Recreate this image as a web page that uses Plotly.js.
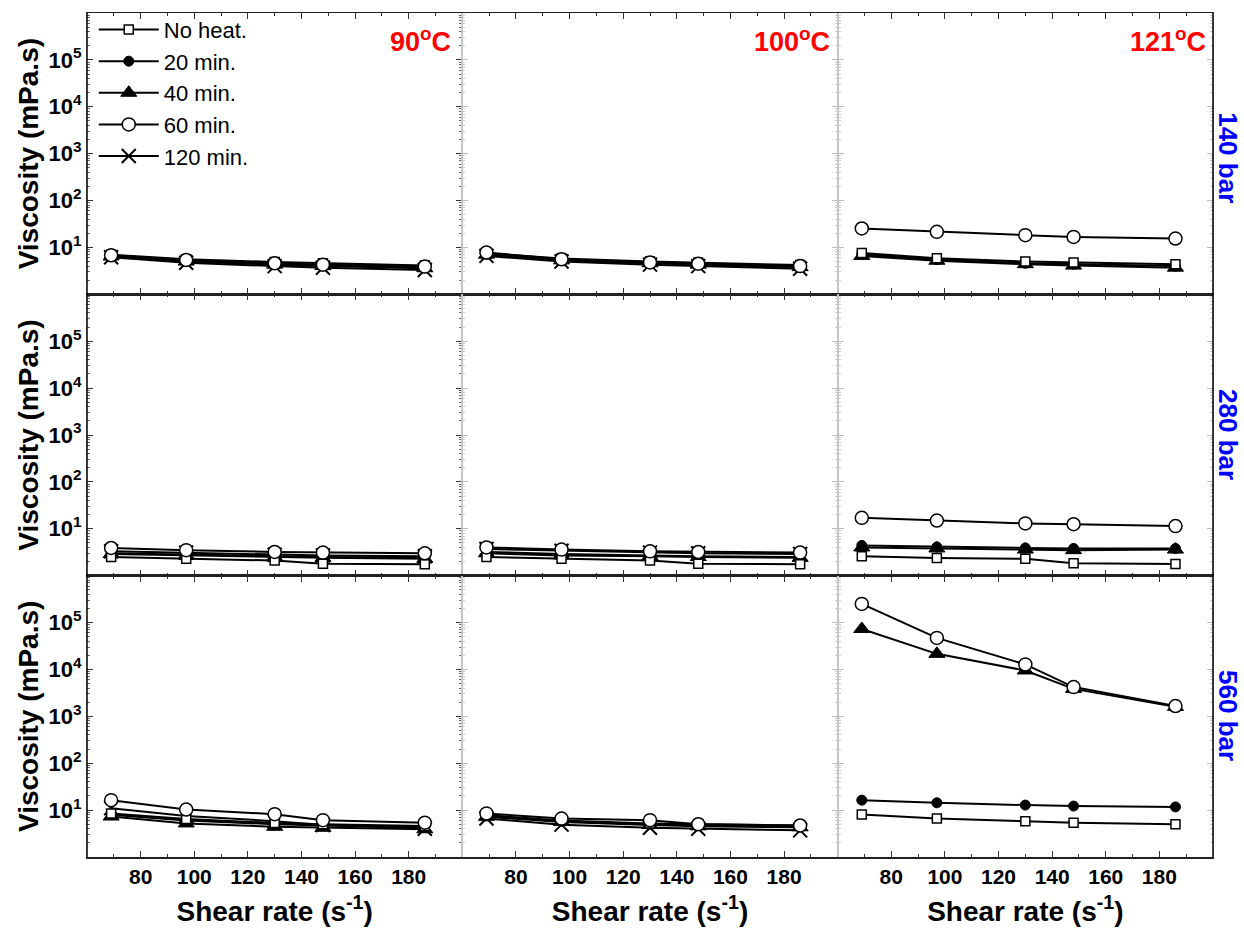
<!DOCTYPE html>
<html><head><meta charset="utf-8">
<script src="https://cdn.plot.ly/plotly-3.0.1.min.js"></script>
<style>body{margin:0;background:#fff}#chart{width:1244px;height:929px}</style>
</head><body><div id="chart"></div>
<script>
// ---- data ----
const shearRate = [69, 97, 130, 148, 186];
const seriesNames = ['No heat.', '20 min.', '40 min.', '60 min.', '120 min.'];
const temperatureLabels = ['90<sup>o</sup>C', '100<sup>o</sup>C', '121<sup>o</sup>C'];
const pressureLabels = ['140 bar', '280 bar', '560 bar'];
const xTickVals = [80, 100, 120, 140, 160, 180];
const yTickVals = [10, 100, 1000, 10000, 100000];
const yTickText = ['10<sup>1</sup>', '10<sup>2</sup>', '10<sup>3</sup>', '10<sup>4</sup>', '10<sup>5</sup>'];

// viscosity (mPa.s); rows: No heat, 20, 40, 60, 120 min
const p140_90 = [
  [7.0, 5.6, 4.9, 4.6, 4.1],
  [6.6, 5.2, 4.5, 4.2, 3.7],
  [6.4, 5.0, 4.3, 4.0, 3.6],
  [6.8, 5.4, 4.6, 4.3, 3.9],
  [6.2, 4.7, 4.0, 3.7, 3.3]
];
const p140_100 = [
  [7.5, 5.8, 5.0, 4.7, 4.2],
  [7.2, 5.5, 4.7, 4.4, 3.9],
  [7.0, 5.3, 4.6, 4.3, 3.8],
  [7.8, 5.6, 4.8, 4.5, 4.0],
  [6.6, 5.0, 4.3, 4.0, 3.5]
];
const p140_121 = [
  [7.6, 5.9, 5.0, 4.8, 4.4],
  [7.1, 5.5, 4.6, 4.4, 4.0],
  [6.6, 5.2, 4.4, 4.1, 3.7],
  [25.4, 21.5, 18.3, 16.8, 15.5],
  [null, null, null, null, null]
];
const p280_90 = [
  [2.5, 2.3, 2.1, 1.8, 1.75],
  [3.0, 2.8, 2.6, 2.5, 2.4],
  [2.9, 2.7, 2.5, 2.4, 2.3],
  [3.9, 3.5, 3.2, 3.1, 3.0],
  [3.3, 3.1, 2.8, 2.7, 2.6]
];
const p280_100 = [
  [2.5, 2.3, 2.1, 1.8, 1.75],
  [3.2, 2.9, 2.7, 2.6, 2.5],
  [3.0, 2.7, 2.6, 2.5, 2.4],
  [4.0, 3.6, 3.3, 3.2, 3.1],
  [3.7, 3.4, 3.1, 3.0, 2.9]
];
const p280_121 = [
  [2.6, 2.37, 2.3, 1.83, 1.77],
  [4.4, 4.1, 3.9, 3.8, 3.8],
  [4.0, 3.8, 3.6, 3.5, 3.6],
  [17.1, 15.0, 13.0, 12.5, 11.4],
  [null, null, null, null, null]
];
const p560_90 = [
  [8.5, 6.5, 5.3, 5.0, 4.6],
  [8.0, 6.0, 5.0, 4.7, 4.3],
  [7.3, 5.2, 4.4, 4.2, 3.9],
  [16.3, 10.3, 8.2, 6.1, 5.4],
  [11.0, 7.5, 5.8, 4.8, 4.0]
];
const p560_100 = [
  [7.8, 6.0, 5.2, 5.0, 4.7],
  [7.5, 5.8, 5.0, 4.7, 4.5],
  [7.2, 5.6, 4.8, 4.5, 4.3],
  [8.5, 6.6, 6.1, 5.0, 4.7],
  [6.6, 4.9, 4.2, 4.0, 3.7]
];
const p560_121 = [
  [8.1, 6.6, 5.8, 5.4, 5.0],
  [16.3, 14.3, 12.8, 12.2, 11.7],
  [73000, 21500, 9500, 3850, 1590],
  [250000, 47000, 12800, 4200, 1660],
  [null, null, null, null, null]
];
const panels = [
  [p140_90, p140_100, p140_121],
  [p280_90, p280_100, p280_121],
  [p560_90, p560_100, p560_121]
];

// ---- styles ----
const FONT = 'Liberation Sans, Arial, sans-serif';
const markerStyles = [
  {symbol: 'square', size: 9, color: '#fff', line: {color: '#000', width: 1.5}},
  {symbol: 'circle', size: 10, color: '#000', line: {color: '#000', width: 1}},
  {symbol: 'triangle-up', size: 14, color: '#000', line: {color: '#000', width: 1}},
  {symbol: 'circle', size: 13, color: '#fff', line: {color: '#000', width: 1.5}},
  {symbol: 'x-thin-open', size: 14, color: '#000', line: {color: '#000', width: 2}}
];
// draw order: 120 min, 40 min, 20 min, No heat, 60 min
const drawOrder = [4, 2, 1, 0, 3];

const colDomains = [[0, 1/3], [1/3, 2/3], [2/3, 1]];
const rowDomains = [[2/3, 1], [1/3, 2/3], [0, 1/3]];

const minorX = [];
for (let v = 70; v <= 190; v += 20) minorX.push(v);
const minorY = [];
for (let k = 0; k <= 5; k++) for (let m = 2; m <= 9; m++) minorY.push(m * Math.pow(10, k));

const traces = [];
const layout = {
  width: 1244, height: 929,
  margin: {l: 87, r: 31, t: 13, b: 72, autoexpand: false},
  paper_bgcolor: '#fff', plot_bgcolor: '#fff',
  font: {family: FONT, color: '#000'},
  showlegend: true,
  legend: {
    x: 0.006, y: 1.005, xanchor: 'left', yanchor: 'top',
    bgcolor: 'rgba(0,0,0,0)', borderwidth: 0,
    font: {family: FONT, size: 22, color: '#000'},
    itemwidth: 60, tracegroupgap: 0, traceorder: 'normal'
  },
  annotations: [], shapes: []
};

for (let r = 0; r < 3; r++) {
  for (let c = 0; c < 3; c++) {
    const idx = r * 3 + c + 1;
    const sfx = idx === 1 ? '' : String(idx);
    const data = panels[r][c];
    for (const s of drawOrder) {
      traces.push({
        type: 'scatter', mode: 'lines+markers',
        x: shearRate, y: data[s],
        xaxis: 'x' + sfx, yaxis: 'y' + sfx,
        name: seriesNames[s], legendgroup: seriesNames[s],
        legendrank: s + 1,
        showlegend: idx === 1,
        line: {color: '#000', width: 2},
        marker: markerStyles[s],
        cliponaxis: false
      });
    }
    layout['xaxis' + sfx] = {
      domain: colDomains[c], anchor: 'y' + sfx,
      range: [60, 200], tickmode: 'array', tickvals: xTickVals,
      showticklabels: r === 2,
      ticks: 'inside', ticklen: 6, tickwidth: 1, tickcolor: '#333',
      minor: {tickmode: 'array', tickvals: minorX, ticks: 'inside', ticklen: 3, tickcolor: '#333', showgrid: false},
      showline: true, linecolor: '#222', linewidth: 1.5, mirror: 'ticks',
      showgrid: false, zeroline: false,
      tickfont: {family: FONT, size: 21, weight: 'bold', color: '#000'},
      title: r === 2 ? {text: 'Shear rate (s<sup>-1</sup>)', font: {family: FONT, size: 28, weight: 'bold', color: '#000'}, standoff: 14} : {text: ''}
    };
    layout['yaxis' + sfx] = {
      type: 'log', domain: rowDomains[r], anchor: 'x' + sfx,
      range: [0, 6], tickmode: 'array', tickvals: yTickVals, ticktext: yTickText,
      showticklabels: c === 0,
      ticks: 'inside', ticklen: 6, tickwidth: 1, tickcolor: c === 0 ? '#333' : '#bbb',
      minor: {tickmode: 'array', tickvals: minorY, ticks: 'inside', ticklen: 3, tickcolor: c === 0 ? '#666' : '#ccc', showgrid: false},
      showline: true, linecolor: '#c4c4c4', linewidth: 1, mirror: 'ticks',
      showgrid: false, zeroline: false,
      tickfont: {family: FONT, size: 22, weight: 'bold', color: '#000'},
      title: c === 0 ? {text: 'Viscosity (mPa.s)', font: {family: FONT, size: 28, weight: 'bold', color: '#000'}, standoff: 1} : {text: ''}
    };
  }
}

// temperature labels (top row, each column)
const tempX = [0.325, 0.6615, 0.9955];
for (let c = 0; c < 3; c++) {
  layout.annotations.push({
    xref: 'paper', yref: 'paper', x: tempX[c], y: 0.968,
    xanchor: 'right', yanchor: 'middle', showarrow: false,
    text: temperatureLabels[c],
    font: {family: FONT, size: 27, weight: 'bold', color: '#ff0000'}
  });
}
// pressure labels (right side, each row)
const pressY = [0.828, 0.5, 0.167];
for (let r = 0; r < 3; r++) {
  layout.annotations.push({
    xref: 'paper', yref: 'paper', x: 1.0133, y: pressY[r],
    xanchor: 'center', yanchor: 'middle', showarrow: false, textangle: 90,
    text: pressureLabels[r],
    font: {family: FONT, size: 26, weight: 'bold', color: '#0000ff'}
  });
}
// outer black frame on left and right
layout.shapes.push({type: 'line', xref: 'paper', yref: 'paper', x0: 0, x1: 0, y0: 0, y1: 1, line: {color: '#000', width: 1.5}});
layout.shapes.push({type: 'line', xref: 'paper', yref: 'paper', x0: 1, x1: 1, y0: 0, y1: 1, line: {color: '#000', width: 1.5}});

Plotly.newPlot('chart', traces, layout, {staticPlot: true, displayModeBar: false});
</script>
</body></html>
